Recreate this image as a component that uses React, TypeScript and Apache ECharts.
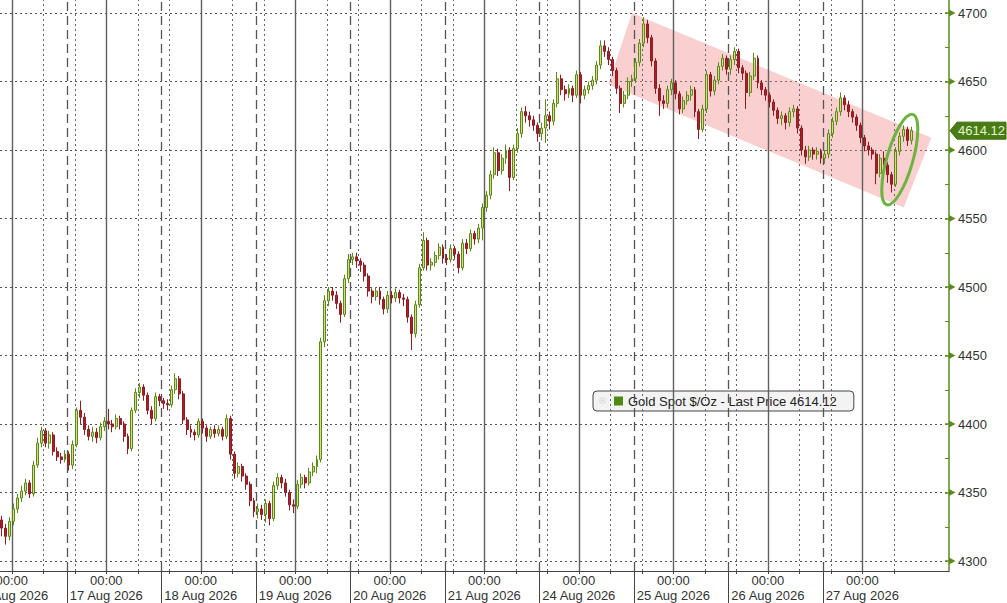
import React, { useEffect, useRef } from 'react';
import * as echarts from 'echarts';

const FONT = '"Liberation Sans", Arial, sans-serif';
const seriesName = 'Gold Spot $/Oz';
const lastPrice = 4614.12;
const yTicks = [4300, 4350, 4400, 4450, 4500, 4550, 4600, 4650, 4700];
const dayLabels = ['16 Aug 2026', '17 Aug 2026', '18 Aug 2026', '19 Aug 2026', '20 Aug 2026', '21 Aug 2026', '24 Aug 2026', '25 Aug 2026', '26 Aug 2026', '27 Aug 2026'];

// [open, close, low, high] per hourly slot
const aug16 = [
  [4330, 4324, 4318, 4333], [4324, 4318, 4312, 4327], [4318, 4329, 4315, 4332], [4329, 4338, 4326, 4342],
  [4338, 4346, 4335, 4349], [4346, 4351, 4343, 4355], [4351, 4357, 4348, 4360], [4357, 4349, 4346, 4359],
  [4349, 4370, 4347, 4373], [4370, 4386, 4368, 4390], [4386, 4395, 4383, 4398], [4395, 4386, 4383, 4397],
  [4386, 4392, 4382, 4395], [4392, 4380, 4377, 4394], [4380, 4376, 4373, 4383], [4376, 4374, 4371, 4379],
  [4374, 4378, 4372, 4381],
];
const aug17 = [
  [4378, 4370, 4366, 4380], [4370, 4385, 4367, 4388], [4385, 4410, 4383, 4412], [4410, 4405, 4400, 4417],
  [4405, 4396, 4392, 4408], [4396, 4391, 4388, 4399], [4391, 4394, 4387, 4398], [4394, 4390, 4386, 4397],
  [4390, 4398, 4388, 4401], [4398, 4402, 4395, 4405], [4402, 4400, 4396, 4411], [4400, 4398, 4394, 4403],
  [4398, 4404, 4396, 4407], [4404, 4400, 4396, 4406], [4400, 4391, 4387, 4402], [4391, 4382, 4378, 4393],
  [4382, 4410, 4380, 4412], [4410, 4423, 4408, 4426], [4423, 4427, 4419, 4430], [4427, 4421, 4417, 4429],
  [4421, 4410, 4407, 4423], [4410, 4404, 4400, 4413], [4404, 4420, 4402, 4423], [4420, 4417, 4413, 4422],
];
const aug18 = [
  [4417, 4415, 4411, 4419], [4415, 4414, 4410, 4418], [4414, 4425, 4412, 4428], [4425, 4433, 4422, 4437],
  [4433, 4422, 4418, 4435], [4422, 4403, 4400, 4424], [4403, 4396, 4392, 4405], [4396, 4394, 4390, 4399],
  [4394, 4392, 4388, 4396], [4392, 4402, 4390, 4404], [4402, 4397, 4393, 4404], [4397, 4391, 4387, 4399],
  [4391, 4396, 4389, 4398], [4396, 4393, 4390, 4399], [4393, 4396, 4391, 4399], [4396, 4391, 4388, 4398],
  [4391, 4404, 4389, 4407], [4404, 4378, 4374, 4406], [4378, 4364, 4360, 4380], [4364, 4369, 4361, 4372],
  [4369, 4362, 4358, 4371], [4362, 4356, 4352, 4364], [4356, 4344, 4340, 4358], [4344, 4336, 4332, 4346],
];
const aug19 = [
  [4336, 4338, 4331, 4342], [4338, 4334, 4330, 4341], [4334, 4342, 4328, 4345], [4342, 4331, 4326, 4344],
  [4331, 4355, 4329, 4358], [4355, 4361, 4352, 4364], [4361, 4357, 4353, 4363], [4357, 4350, 4347, 4360],
  [4350, 4341, 4337, 4352], [4341, 4340, 4335, 4345], [4340, 4356, 4338, 4359], [4356, 4361, 4353, 4364],
  [4361, 4357, 4353, 4363], [4357, 4365, 4355, 4368], [4365, 4369, 4362, 4372], [4369, 4374, 4364, 4377],
  [4374, 4460, 4372, 4463], [4460, 4490, 4456, 4494], [4490, 4497, 4486, 4500], [4497, 4494, 4490, 4500],
  [4494, 4488, 4484, 4497], [4488, 4480, 4474, 4490], [4480, 4506, 4478, 4509], [4506, 4520, 4503, 4524],
];
const aug20 = [
  [4520, 4522, 4516, 4525], [4522, 4519, 4514, 4525], [4519, 4516, 4511, 4521], [4516, 4508, 4504, 4518],
  [4508, 4497, 4493, 4510], [4497, 4493, 4488, 4499], [4493, 4497, 4490, 4500], [4497, 4491, 4487, 4500],
  [4491, 4484, 4480, 4493], [4484, 4494, 4481, 4497], [4494, 4492, 4488, 4497], [4492, 4496, 4489, 4499],
  [4496, 4492, 4488, 4498], [4492, 4491, 4486, 4495], [4491, 4478, 4474, 4493], [4478, 4466, 4454, 4480],
  [4466, 4487, 4463, 4490], [4487, 4514, 4485, 4517], [4514, 4534, 4512, 4540], [4534, 4516, 4512, 4536],
  [4516, 4518, 4512, 4521], [4518, 4523, 4515, 4526], [4523, 4529, 4520, 4532], [4529, 4521, 4517, 4531],
];
const aug21 = [
  [4521, 4520, 4516, 4524], [4520, 4528, 4518, 4531], [4528, 4524, 4520, 4530], [4524, 4514, 4510, 4526],
  [4514, 4532, 4512, 4535], [4532, 4528, 4524, 4535], [4528, 4539, 4526, 4542], [4539, 4535, 4531, 4541],
  [4535, 4543, 4532, 4546], [4543, 4558, 4534, 4561], [4558, 4567, 4555, 4570], [4567, 4582, 4564, 4585],
  [4582, 4598, 4579, 4602], [4598, 4585, 4581, 4601], [4585, 4594, 4582, 4597], [4594, 4600, 4590, 4604],
  [4600, 4580, 4570, 4602], [4580, 4601, 4578, 4604], [4601, 4612, 4598, 4616], [4612, 4628, 4609, 4631],
  [4628, 4625, 4620, 4632], [4625, 4622, 4617, 4628], [4622, 4618, 4614, 4625], [4618, 4612, 4606, 4620],
];
const aug24 = [
  [4612, 4616, 4607, 4620], [4616, 4625, 4605, 4637], [4625, 4621, 4615, 4628], [4621, 4634, 4618, 4637],
  [4634, 4652, 4631, 4657], [4652, 4644, 4640, 4655], [4644, 4641, 4636, 4647], [4641, 4645, 4638, 4648],
  [4645, 4640, 4635, 4647], [4640, 4655, 4638, 4658], [4655, 4640, 4634, 4657], [4640, 4644, 4637, 4647],
  [4644, 4647, 4641, 4650], [4647, 4651, 4644, 4654], [4651, 4662, 4648, 4665], [4662, 4676, 4659, 4680],
  [4676, 4672, 4668, 4680], [4672, 4666, 4662, 4675], [4666, 4658, 4654, 4668], [4658, 4645, 4641, 4660],
  [4645, 4634, 4627, 4647], [4634, 4640, 4631, 4643], [4640, 4650, 4637, 4653], [4650, 4652, 4646, 4655],
];
const aug25 = [
  [4652, 4664, 4649, 4667], [4664, 4678, 4661, 4681], [4678, 4692, 4675, 4697], [4692, 4682, 4678, 4695],
  [4682, 4665, 4661, 4684], [4665, 4645, 4641, 4667], [4645, 4636, 4625, 4648], [4636, 4634, 4630, 4640],
  [4634, 4644, 4631, 4647], [4644, 4649, 4640, 4652], [4649, 4641, 4637, 4651], [4641, 4630, 4626, 4643],
  [4630, 4636, 4627, 4639], [4636, 4640, 4633, 4643], [4640, 4644, 4636, 4647], [4644, 4628, 4624, 4646],
  [4628, 4615, 4608, 4630], [4615, 4630, 4613, 4633], [4630, 4655, 4627, 4658], [4655, 4643, 4639, 4657],
  [4643, 4651, 4640, 4654], [4651, 4661, 4648, 4664], [4661, 4667, 4658, 4670], [4667, 4659, 4655, 4669],
];
const aug26 = [
  [4659, 4666, 4655, 4669], [4666, 4672, 4662, 4675], [4672, 4660, 4656, 4674], [4660, 4656, 4651, 4662],
  [4656, 4642, 4630, 4658], [4642, 4654, 4639, 4657], [4654, 4667, 4651, 4671], [4667, 4649, 4645, 4669],
  [4649, 4644, 4640, 4651], [4644, 4640, 4636, 4646], [4640, 4635, 4631, 4642], [4635, 4629, 4625, 4637],
  [4629, 4623, 4619, 4631], [4623, 4625, 4618, 4628], [4625, 4620, 4615, 4627], [4620, 4628, 4617, 4631],
  [4628, 4630, 4624, 4633], [4630, 4616, 4612, 4632], [4616, 4600, 4596, 4618], [4600, 4595, 4590, 4603],
  [4595, 4600, 4592, 4603], [4600, 4597, 4593, 4602], [4597, 4599, 4593, 4602], [4599, 4594, 4590, 4601],
];
const aug27 = [
  [4594, 4597, 4590, 4600], [4597, 4612, 4594, 4615], [4612, 4621, 4609, 4624], [4621, 4628, 4618, 4631],
  [4628, 4638, 4625, 4642], [4638, 4633, 4629, 4640], [4633, 4628, 4624, 4636], [4628, 4624, 4620, 4630],
  [4624, 4618, 4614, 4626], [4618, 4609, 4605, 4620], [4609, 4603, 4599, 4611], [4603, 4600, 4596, 4606],
  [4600, 4597, 4593, 4602], [4597, 4583, 4575, 4599], [4583, 4594, 4580, 4597], [4594, 4589, 4585, 4599],
  [4589, 4582, 4576, 4591], [4582, 4575, 4569, 4584], [4575, 4599, 4573, 4602], [4599, 4610, 4596, 4613],
  [4610, 4615, 4606, 4618], [4615, 4607, 4603, 4617], [4607, 4614.12, 4604, 4617],
];

// annotation anchors in (slot index, price)
const channelIdx = [160, 236, 229, 154];
const channelPrice = [4700, 4609, 4558, 4648];
const ellipseIdx = 228;
const ellipsePrice = 4593;

const SLOTS = 241;
const SESSION = 24;
const FIRST_BREAK = 17;
const MIDNIGHT0 = 3;

export default function App() {
  const ref = useRef<HTMLDivElement>(null);
  useEffect(() => {
    document.body.style.margin = '0';
    if (!ref.current) return;
    const chart = echarts.init(ref.current, null, { renderer: 'svg' });
    const candles = [...aug16, ...aug17, ...aug18, ...aug19, ...aug20, ...aug21, ...aug24, ...aug25, ...aug26, ...aug27];
    const catCandle = Array.from({ length: SLOTS }, (_, i) => String(i));
    const labelIdx = dayLabels.map((_, k) => MIDNIGHT0 + SESSION * k);
    const catLine = Array.from({ length: SLOTS + 1 }, (_, i) => {
      const k = labelIdx.indexOf(i);
      return k >= 0 ? '00:00\n' + dayLabels[k] : 'p' + i;
    });
    const breakIdx = Array.from({ length: 9 }, (_, k) => FIRST_BREAK + SESSION * k);
    const noonIdx = Array.from({ length: 10 }, (_, k) => MIDNIGHT0 + 8 + SESSION * k);
    const eveIdx = Array.from({ length: 9 }, (_, k) => FIRST_BREAK + 2 + SESSION * k);
    const smallTickIdx = [...labelIdx, ...noonIdx, ...eveIdx];

    const vLines: any[] = [];
    labelIdx.forEach((i) => vLines.push({ xAxis: i, lineStyle: { color: '#5f5f5f', width: 1.4, type: 'solid' } }));
    breakIdx.forEach((i) => vLines.push({ xAxis: i, lineStyle: { color: '#555', width: 1.3, type: [9, 5] } }));
    [...noonIdx, ...eveIdx].forEach((i) => vLines.push({ xAxis: i, lineStyle: { color: '#666', width: 1, type: [2, 3] } }));

    const option: any = {
      animation: false,
      backgroundColor: '#ffffff',
      grid: [
        { left: 0, right: 58, top: 13, bottom: 42, outerBoundsMode: 'none' },
        { left: 0, right: 58, top: 0, bottom: 32, outerBoundsMode: 'none' },
      ],
      legend: {
        data: [{ name: seriesName, icon: 'rect', itemStyle: { color: '#4f8a10', borderWidth: 0 } }],
        left: 593,
        top: 391,
        itemWidth: 9,
        itemHeight: 9,
        padding: [3, 17, 3, 21],
        backgroundColor: 'rgba(240,240,240,0.78)',
        borderColor: '#444',
        borderWidth: 1,
        borderRadius: 4,
        selectedMode: false,
        formatter: (name: string) => `${name} - Last Price ${lastPrice.toFixed(2)}`,
        textStyle: { color: '#222', fontSize: 13, fontFamily: FONT, lineHeight: 14 },
      },
      xAxis: [
        { type: 'category', gridIndex: 0, data: catCandle, boundaryGap: true, show: false },
        {
          type: 'category', gridIndex: 1, data: catLine, boundaryGap: false, position: 'bottom',
          axisLine: { show: true, onZero: false, lineStyle: { color: '#444', width: 1.2 } },
          axisTick: { show: true, interval: (i: number) => smallTickIdx.includes(i), length: 3, lineStyle: { color: '#444' } },
          axisLabel: {
            interval: (i: number) => labelIdx.includes(i),
            color: '#333', fontSize: 13, lineHeight: 15, margin: 2, fontFamily: FONT,
          },
          splitLine: { show: false },
        },
        {
          type: 'category', gridIndex: 1, data: catLine, boundaryGap: false, position: 'bottom',
          axisLine: { show: false, onZero: false },
          axisTick: { show: true, interval: (i: number) => breakIdx.includes(i), length: 32, lineStyle: { color: '#444' } },
          axisLabel: { show: false },
          splitLine: { show: false },
        },
      ],
      yAxis: [
        {
          type: 'value', gridIndex: 0, position: 'right', min: 4300, max: 4700, interval: 50,
          axisLine: { show: false },
          axisTick: { show: true, inside: true, length: 4, lineStyle: { color: '#5b8a1e', width: 1.5 } },
          minorTick: { show: true, splitNumber: 2, length: 4, lineStyle: { color: '#5b8a1e', width: 1 } },
          axisLabel: { color: '#333', fontSize: 13, fontFamily: FONT, margin: 9, formatter: (v: number) => String(v) },
          splitLine: { show: true, lineStyle: { color: '#555', type: [2, 3], width: 1 } },
        },
        {
          type: 'value', gridIndex: 1, position: 'right', min: 0, max: 1,
          axisLine: { show: true, lineStyle: { color: '#5b8a1e', width: 1.5 } },
          axisTick: { show: false }, axisLabel: { show: false }, splitLine: { show: false },
        },
      ],
      series: [
        {
          type: 'line', xAxisIndex: 1, yAxisIndex: 1, data: [], silent: true, z: 1,
          markLine: { silent: true, symbol: ['none', 'none'], label: { show: false }, data: vLines, animation: false },
        },
        {
          type: 'custom', xAxisIndex: 0, yAxisIndex: 0, data: [[0, 0]], silent: true, z: 2, clip: false,
          renderItem: (_p: any, api: any) => ({
            type: 'polygon',
            shape: { points: channelIdx.map((x, i) => api.coord([x, channelPrice[i]])) },
            style: { fill: 'rgba(240,128,128,0.38)' },
          }),
        },
        {
          name: seriesName, type: 'candlestick', xAxisIndex: 0, yAxisIndex: 0, data: candles, z: 5,
          barWidth: '62%',
          itemStyle: { color: '#dcd98a', color0: '#a8202a', borderColor: '#5a8a16', borderColor0: '#8e1c22', borderWidth: 1 },
        },
        {
          type: 'custom', xAxisIndex: 0, yAxisIndex: 0, data: [[ellipseIdx, ellipsePrice]], silent: true, z: 6, clip: false,
          renderItem: (_p: any, api: any) => {
            const c = api.coord([api.value(0), api.value(1)]);
            return {
              type: 'ellipse', x: c[0], y: c[1], rotation: -0.28,
              shape: { cx: 0, cy: 0, rx: 13, ry: 47 },
              style: { fill: 'none', stroke: '#6db33f', lineWidth: 3 },
            };
          },
        },
      ],
    };
    chart.setOption(option);

    const ax = chart.convertToPixel({ xAxisIndex: 1 } as any, SLOTS) as number;
    const els: any[] = [];
    yTicks.forEach((v) => {
      const y = chart.convertToPixel({ yAxisIndex: 0 } as any, v) as number;
      els.push({ type: 'polygon', shape: { points: [[ax, y - 3.5], [ax, y + 3.5], [ax + 6.5, y]] }, style: { fill: '#5b8a1e' }, z: 20 });
    });
    const ly = chart.convertToPixel({ yAxisIndex: 0 } as any, lastPrice) as number;
    els.push({
      type: 'polygon',
      shape: { points: [[ax + 1, ly], [ax + 8, ly - 8.5], [1006, ly - 8.5], [1006, ly + 8.5], [ax + 8, ly + 8.5]] },
      style: { fill: '#4a7c14', stroke: '#3d6a0c', lineWidth: 1 }, z: 21,
    });
    els.push({
      type: 'text', x: ax + 9, y: ly, z: 22,
      style: { text: lastPrice.toFixed(2), fill: '#e4f6d0', fontSize: 13, fontFamily: FONT, verticalAlign: 'middle' },
    });
    els.push({
      type: 'group', x: 600, y: 398, z: 30,
      children: [
        { type: 'rect', shape: { x: 0, y: 0, width: 5, height: 5 }, style: { fill: '#fff', stroke: '#777', lineWidth: 0.8 } },
        { type: 'line', shape: { x1: 1, y1: 2.5, x2: 4, y2: 2.5 }, style: { stroke: '#777', lineWidth: 0.8 } },
        { type: 'line', shape: { x1: 2.5, y1: 1, x2: 2.5, y2: 4 }, style: { stroke: '#777', lineWidth: 0.8 } },
      ],
    });
    chart.setOption({ graphic: { elements: els } });

    return () => chart.dispose();
  }, []);
  return <div ref={ref} style={{ width: 1007, height: 603 }} />;
}
